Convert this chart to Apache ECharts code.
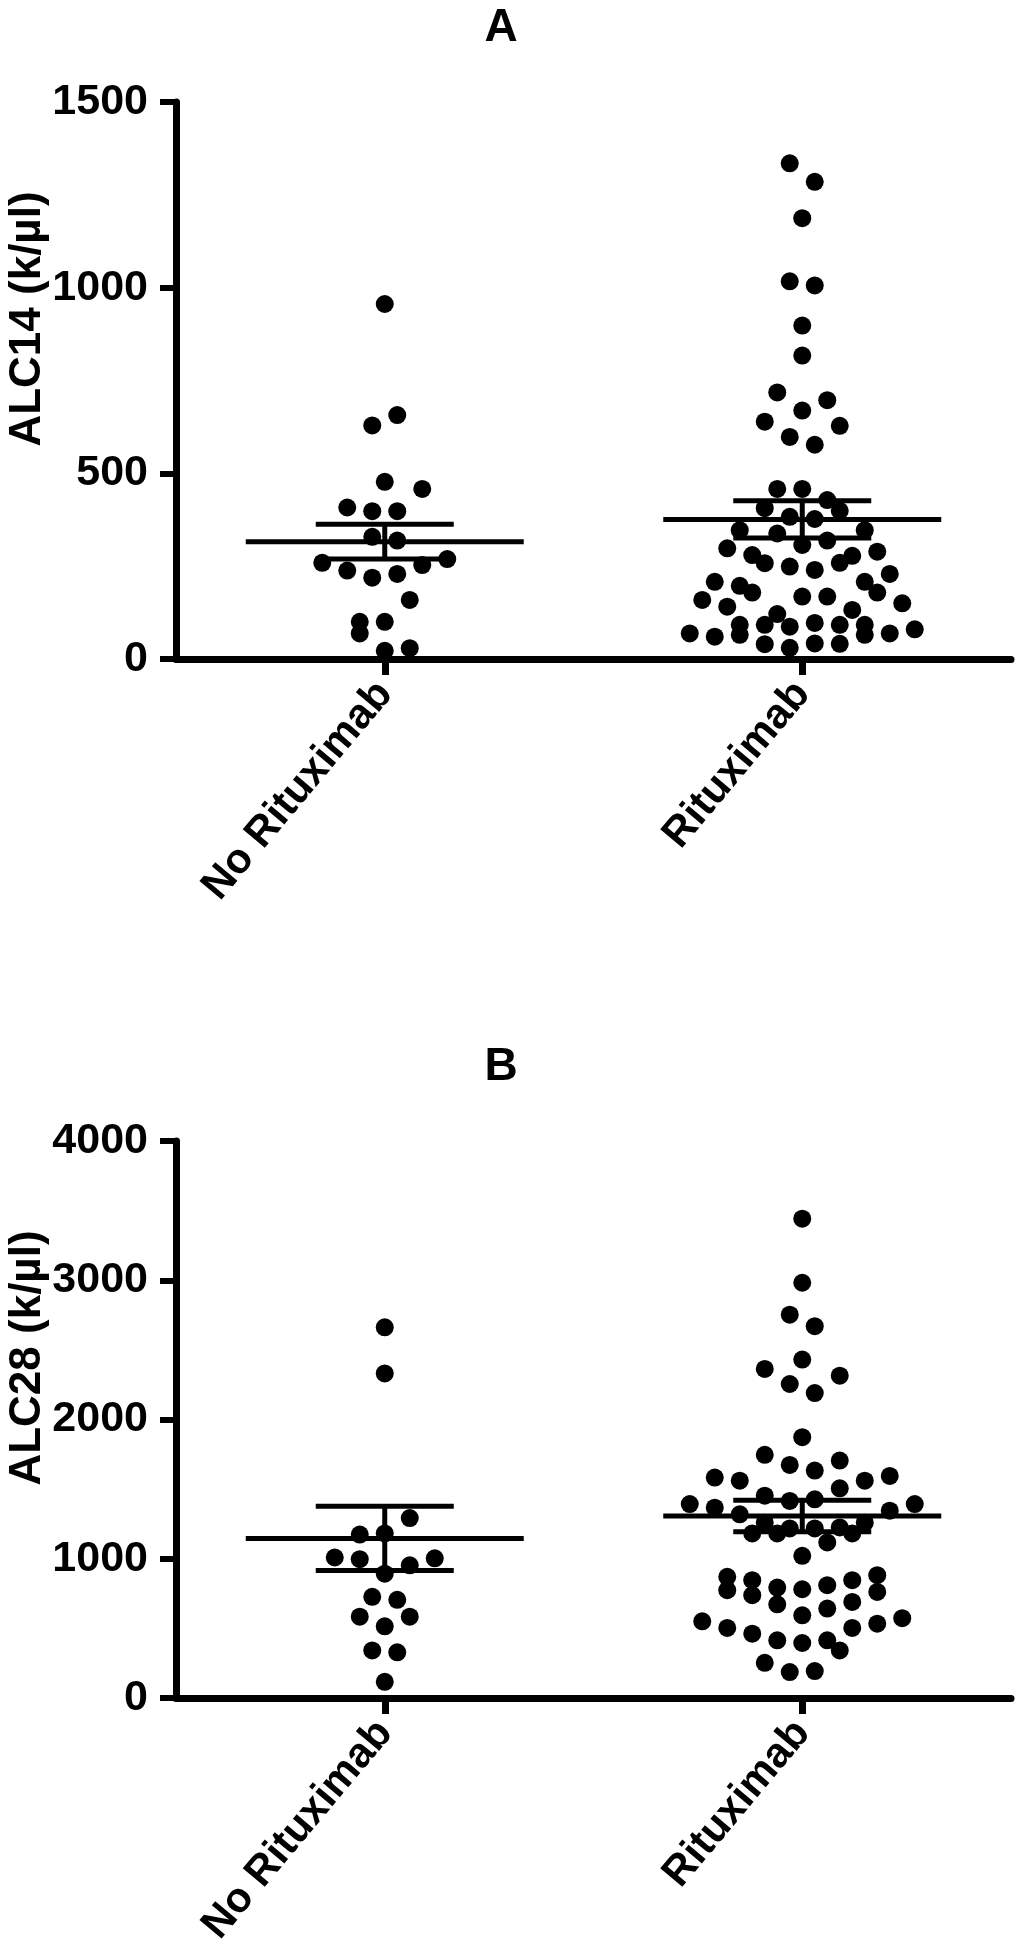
<!DOCTYPE html>
<html>
<head>
<meta charset="utf-8">
<script src="https://cdn.jsdelivr.net/npm/echarts@6/dist/echarts.min.js"></script>
<style>
html,body{margin:0;padding:0;background:#fff;}
#chart{width:1016px;height:1950px;}
</style>
</head>
<body>
<div id="chart"></div>
<script>
// ---- data ----
const categories = ['No Rituximab', 'Rituximab'];
const panelTitles = ['A', 'B'];
const yAxisNames = ['ALC14 (k/\u00b5l)', 'ALC28 (k/\u00b5l)'];
const yMaxA = 1500, yIntervalA = 500;
const yMaxB = 4000, yIntervalB = 1000;

// Panel A values (data order)
const alc14NoRituximab = [69,22,29, 100,100,159, 259,238,219,229,253,269, 329,319, 408,398,398,458, 477, 629,657, 956];
const alc14Rituximab = [69,60,65,40,30,42,41,65,69,80, 92,92,87,97,92,92,
  159,141,179,121,168,168,132,179,150, 208,197,258,249,240,259,208,229,
  298,280,338,307,319,278,289, 347,406,383,377,399,347, 458,458,428,
  639,598,577,628, 718,669,697, 817, 898, 1017,1006, 1187, 1335,1285];
// Panel B values (data order)
const alc28NoRituximab = [116, 342,328, 584,515,584, 727,705, 1009,997,893,953,1003, 1174,1182,1292, 2331, 2662];
const alc28Rituximab = [253,186,193,342, 551,503,462,414,395,414,503,534,573,
  774,738,673,594,642,690,762, 870,846,793,781,810,846,882,
  1182,1182,1021,1117,1182, 1393,1367,1319,1259,1218,1218,1225,1259,1345,1393,
  1583,1561,1453,1415,1427,1506,1561,1595, 1746,1674,1633,1705, 1873,
  2363,2255,2190,2315, 2430, 2753,2670, 2982, 3442];

// mean and SEM as drawn
const meanA = [316, 376];
const semA = [47, 50];
const meanB = [1146, 1307];
const semB = [231, 113];

// ---- layout ----
const GRID_LEFT = 176, GRID_RIGHT = 5, GRID_H = 557;
const GRID_TOPS = [102, 1141];
const PANEL_SHIFT = 1039;
const GRID_W = 1016 - GRID_LEFT - GRID_RIGHT;
const PX_PER_UNIT = GRID_W / 2;
const BIN_PX = 25.5, LANE_PX = 25, MAX_ROW = 10;
const FONT = "'Liberation Sans', Arial, Helvetica, sans-serif";

function swarm(values, axisMax, group) {
  const hU = BIN_PX * axisMax / GRID_H;
  const idx = values.map((v, i) => i).sort((a, b) => values[a] - values[b] || a - b);
  const pts = [];
  let i = 0;
  while (i < idx.length) {
    const start = values[idx[i]];
    const bin = [];
    while (i < idx.length && values[idx[i]] - start <= hU + 1e-9) { bin.push(idx[i]); i++; }
    bin.sort((a, b) => a - b);
    for (let s = 0; s < bin.length; s += MAX_ROW) {
      const row = bin.slice(s, s + MAX_ROW);
      row.forEach((k, j) => {
        const off = (j - (row.length - 1) / 2) * LANE_PX;
        pts.push([group + 0.5 + off / PX_PER_UNIT, values[k]]);
      });
    }
  }
  return pts;
}

const panels = [
  {groups: [alc14NoRituximab, alc14Rituximab], max: yMaxA, interval: yIntervalA, mean: meanA, sem: semA},
  {groups: [alc28NoRituximab, alc28Rituximab], max: yMaxB, interval: yIntervalB, mean: meanB, sem: semB}
];

const grid = [], xAxis = [], yAxis = [], series = [], title = [], graphic = [];
panels.forEach((p, pi) => {
  grid.push({left: GRID_LEFT, right: GRID_RIGHT, top: GRID_TOPS[pi], height: GRID_H, containLabel: false});
  title.push({text: panelTitles[pi], left: 496, top: 0 + pi * PANEL_SHIFT, textAlign: 'center',
    textStyle: {fontFamily: FONT, fontWeight: 'bold', fontSize: 46, color: '#000'}});
  graphic.push({type: 'text', x: 28, y: 319 + pi * PANEL_SHIFT, rotation: Math.PI / 2, silent: true,
    style: {text: yAxisNames[pi], fill: '#000', font: "bold 44px " + FONT,
      textAlign: 'center', textVerticalAlign: 'middle'}});
  // visible category axis
  xAxis.push({type: 'category', gridIndex: pi, data: categories, boundaryGap: true,
    axisLine: {show: true, lineStyle: {color: '#000', width: 7}},
    axisTick: {show: true, alignWithLabel: true, length: 16, lineStyle: {color: '#000', width: 7}},
    axisLabel: {rotate: 50, fontSize: 42, fontWeight: 'bold', fontFamily: FONT, color: '#000', margin: 28},
    splitLine: {show: false}});
  // hidden value axis for placement
  xAxis.push({type: 'value', gridIndex: pi, min: 0, max: 2, show: false, splitLine: {show: false}});
  yAxis.push({type: 'value', gridIndex: pi, min: 0, max: p.max, interval: p.interval,
    axisLine: {show: true, lineStyle: {color: '#000', width: 7}},
    axisTick: {show: true, length: 16, lineStyle: {color: '#000', width: 6}},
    axisLabel: {fontSize: 43, fontWeight: 'bold', fontFamily: FONT, color: '#000', margin: 28,
      formatter: v => String(v)},
    splitLine: {show: false}});
  p.groups.forEach((vals, g) => {
    series.push({type: 'scatter', xAxisIndex: pi * 2 + 1, yAxisIndex: pi,
      data: swarm(vals, p.max, g), symbol: 'circle', symbolSize: 18,
      itemStyle: {color: '#000', opacity: 1}, silent: true, animation: false});
  });
  series.push({type: 'custom', xAxisIndex: pi * 2 + 1, yAxisIndex: pi, animation: false, silent: true,
    data: p.mean.map((m, g) => [g + 0.5, m, p.sem[g]]),
    renderItem: function (params, api) {
      const x = api.value(0), m = api.value(1), s = api.value(2);
      const c = api.coord([x, m]);
      const up = api.coord([x, m + s]);
      const lo = api.coord([x, m - s]);
      const st = {stroke: '#000', lineWidth: 5};
      return {type: 'group', children: [
        {type: 'line', shape: {x1: c[0] - 139, y1: c[1], x2: c[0] + 139, y2: c[1]}, style: st},
        {type: 'line', shape: {x1: up[0] - 69, y1: up[1], x2: up[0] + 69, y2: up[1]}, style: st},
        {type: 'line', shape: {x1: lo[0] - 69, y1: lo[1], x2: lo[0] + 69, y2: lo[1]}, style: st},
        {type: 'line', shape: {x1: c[0], y1: up[1], x2: c[0], y2: lo[1]}, style: st}
      ]};
    }});
});

const chart = echarts.init(document.getElementById('chart'), null, {renderer: 'canvas'});
chart.setOption({animation: false, backgroundColor: '#fff', title, grid, xAxis, yAxis, series, graphic});
</script>
</body>
</html>
